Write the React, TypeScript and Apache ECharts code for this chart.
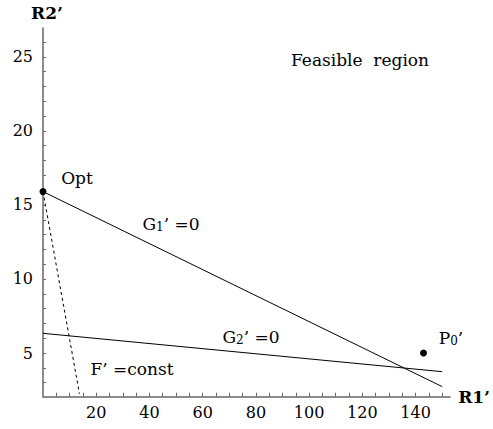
import React, { useEffect, useRef } from "react";
import * as echarts from "echarts";

const FONT = "DejaVu Serif";

// Constraint line G1' = 0 (endpoints)
const g1Line: [number, number][] = [
  [0, 15.9],
  [150, 2.73],
];
// Constraint line G2' = 0
const g2Line: [number, number][] = [
  [0, 6.33],
  [150, 3.74],
];
// Objective contour F' = const (dashed)
const fLine: [number, number][] = [
  [0, 15.9],
  [13.7, 2.25],
];
// Points
const optPoint: [number, number][] = [[0, 15.9]];
const p0Point: [number, number][] = [[143, 5]];

const xLabels = [20, 40, 60, 80, 100, 120, 140];
const yLabels = [5, 10, 15, 20, 25];
const xTicks = [5, 10, 15, 20, 25, 30, 35, 40, 45, 50, 55, 60, 65, 70, 75, 80, 85, 90, 95, 100, 105, 110, 115, 120, 125, 130, 135, 140, 145, 150];
const yTicks = [3, 4, 5, 6, 7, 8, 9, 10, 11, 12, 13, 14, 15, 16, 17, 18, 19, 20, 21, 22, 23, 24, 25, 26];

export default function App() {
  const ref = useRef<HTMLDivElement>(null);
  useEffect(() => {
    if (!ref.current) return;
    const chart = echarts.init(ref.current, null, { renderer: "svg" });
    const txt = { fontFamily: FONT, fontSize: 17, fill: "#000" };
    const rich = {
      a: { fontFamily: FONT, fontSize: 17, color: "#000" },
      s: { fontFamily: FONT, fontSize: 12, color: "#000", padding: [6, 0, 0, 0] },
    };
    chart.setOption({
      animation: false,
      grid: { left: 43, right: 37, top: 28, bottom: 32.3 },
      xAxis: {
        type: "value",
        min: 0,
        max: 153,
        name: "R1’",
        nameLocation: "end",
        nameGap: 8,
        nameTextStyle: {
          fontFamily: FONT,
          fontWeight: "bold",
          fontSize: 17,
          color: "#000",
          verticalAlign: "middle",
          padding: [10, 0, 0, 0],
        },
        axisLine: { show: true, onZero: false, lineStyle: { color: "#666", width: 1.5 } },
        axisTick: { show: true, inside: true, length: 4, customValues: xTicks, lineStyle: { color: "#666" } },
        axisLabel: { customValues: xLabels, margin: 8, fontFamily: FONT, fontSize: 16, color: "#000" },
        splitLine: { show: false },
      },
      yAxis: {
        type: "value",
        min: 2.05,
        max: 26.95,
        name: "R2’",
        nameLocation: "end",
        nameGap: 7,
        nameTextStyle: {
          fontFamily: FONT,
          fontWeight: "bold",
          fontSize: 17,
          color: "#000",
          align: "center",
          padding: [0, 0, 0, 8],
        },
        axisLine: { show: true, onZero: false, lineStyle: { color: "#666", width: 1.5 } },
        axisTick: { show: true, inside: true, length: 3, customValues: yTicks, lineStyle: { color: "#666" } },
        axisLabel: { customValues: yLabels, margin: 10, fontFamily: FONT, fontSize: 16, color: "#000" },
        splitLine: { show: false },
      },
      series: [
        {
          type: "line",
          data: g1Line,
          symbol: "none",
          lineStyle: { color: "#000", width: 1 },
        },
        {
          type: "line",
          data: g2Line,
          symbol: "none",
          lineStyle: { color: "#000", width: 1 },
        },
        {
          type: "line",
          data: fLine,
          symbol: "none",
          lineStyle: { color: "#000", width: 1, type: [3, 3] },
        },
        {
          type: "scatter",
          data: optPoint,
          symbolSize: 7,
          clip: false,
          itemStyle: { color: "#000", opacity: 1 },
        },
        {
          type: "scatter",
          data: p0Point,
          symbolSize: 7,
          clip: false,
          itemStyle: { color: "#000", opacity: 1 },
        },
      ],
      graphic: [
        { type: "text", x: 360, y: 60, style: { ...txt, text: "Feasible  region", align: "center", verticalAlign: "middle" } },
        { type: "text", x: 77, y: 178, style: { ...txt, text: "Opt", align: "center", verticalAlign: "middle" } },
        {
          type: "text",
          x: 171,
          y: 224,
          style: { text: "{a|G}{s|1}{a|’ =0}", rich, align: "center", verticalAlign: "middle" },
        },
        {
          type: "text",
          x: 251,
          y: 337,
          style: { text: "{a|G}{s|2}{a|’ =0}", rich, align: "center", verticalAlign: "middle" },
        },
        { type: "text", x: 132, y: 369, style: { ...txt, text: "F’ =const", align: "center", verticalAlign: "middle" } },
        {
          type: "text",
          x: 451,
          y: 338,
          style: { text: "{a|P}{s|0}{a|’}", rich, align: "center", verticalAlign: "middle" },
        },
      ],
    });
    return () => chart.dispose();
  }, []);
  return (
    <div
      ref={ref}
      style={{ position: "fixed", left: 0, top: 0, width: 493, height: 429, background: "#fff" }}
    />
  );
}
